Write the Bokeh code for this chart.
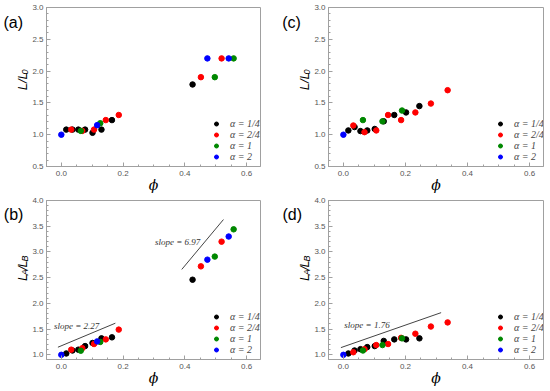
import math
from bokeh.plotting import figure
from bokeh.models import (Range1d, SingleIntervalTicker, NumeralTickFormatter,
                          Legend, LegendItem)
from bokeh.layouts import gridplot
from bokeh.embed import file_html
from bokeh.resources import INLINE
from bokeh.core.properties import value

# ---------------- data ----------------
series_labels = ["α = 1/4", "α = 2/4", "α = 1", "α = 2"]
series_colors = ["#000000", "#ff0000", "#008800", "#0000ff"]

phi_ab_black = [0.016, 0.036, 0.055, 0.077, 0.101, 0.130, 0.164, 0.425]
phi_ab_red = [0.032, 0.068, 0.106, 0.144, 0.186, 0.452, 0.519]
phi_ab_green = [0.063, 0.126, 0.497, 0.558]
phi_ab_blue = [0.0, 0.116, 0.473, 0.542]

a_black = [1.08, 1.08, 1.08, 1.08, 1.03, 1.08, 1.23, 1.79]
a_red = [1.08, 1.06, 1.08, 1.23, 1.31, 1.905, 2.20]
a_green = [1.06, 1.18, 1.905, 2.20]
a_blue = [1.00, 1.15, 2.20, 2.20]

b_black = [1.026, 1.084, 1.10, 1.17, 1.23, 1.32, 1.34, 2.46]
b_red = [1.10, 1.13, 1.21, 1.30, 1.49, 2.72, 3.20]
b_green = [1.08, 1.25, 2.91, 3.44]
b_blue = [1.00, 1.26, 2.85, 3.30]

phi_cd_black = [0.016, 0.036, 0.055, 0.077, 0.101, 0.130, 0.164, 0.202, 0.245]
phi_cd_red = [0.032, 0.068, 0.106, 0.144, 0.186, 0.232, 0.282, 0.336]
phi_cd_green = [0.063, 0.126, 0.189]
phi_cd_blue = [0.0]

c_black = [1.067, 1.12, 1.057, 1.067, 1.09, 1.21, 1.31, 1.35, 1.45]
c_red = [1.145, 1.04, 1.067, 1.31, 1.23, 1.35, 1.49, 1.70]
c_green = [1.23, 1.21, 1.38]
c_blue = [1.00]

d_black = [1.026, 1.084, 1.11, 1.15, 1.17, 1.27, 1.30, 1.30, 1.32]
d_red = [1.05, 1.11, 1.19, 1.21, 1.33, 1.41, 1.55, 1.63]
d_green = [1.084, 1.19, 1.32]
d_blue = [1.00]

slope_b1_x = [-0.011, 0.175]
slope_b1_y = [1.148, 1.615]
slope_b2_x = [0.390, 0.525]
slope_b2_y = [2.66, 3.63]
slope_d_x = [-0.008, 0.315]
slope_d_y = [1.14, 1.82]
slope_b_text = ["slope = 2.27", "slope = 6.97"]
slope_b_text_x = [-0.024, 0.303]
slope_b_text_y = [1.57, 3.20]
slope_d_text = ["slope = 1.76"]
slope_d_text_x = [0.003]
slope_d_text_y = [1.58]

x_ticks_interval = 0.2
y_ticks_interval = 0.5

# ---------------- layout ----------------
X_RANGE = (-0.048, 0.645)
YR_TOP = (0.5, 3.0005)
YR_BOT = (0.909, 4.0005)
H_TOP, H_BOT = 195, 196
GRAY = "#a0a0a0"
TICK_GRAY = "#555555"


def make_fig(W, H, L, R, T, B, yr):
    p = figure(width=W, height=H, output_backend="svg", toolbar_location=None,
               x_range=Range1d(*X_RANGE), y_range=Range1d(*yr),
               min_border_left=L, min_border_right=R,
               min_border_top=T, min_border_bottom=B)
    p.xgrid.visible = False
    p.ygrid.visible = False
    p.outline_line_color = GRAY
    p.outline_line_width = 1
    p.xaxis.ticker = SingleIntervalTicker(interval=x_ticks_interval, num_minor_ticks=4)
    p.yaxis.ticker = SingleIntervalTicker(interval=y_ticks_interval, num_minor_ticks=5)
    p.xaxis.formatter = NumeralTickFormatter(format="0.0")
    p.yaxis.formatter = NumeralTickFormatter(format="0.0")
    for ax in (p.xaxis[0], p.yaxis[0]):
        ax.axis_line_color = GRAY
        ax.major_tick_line_color = GRAY
        ax.minor_tick_line_color = GRAY
        ax.major_tick_in = 4
        ax.major_tick_out = 0
        ax.minor_tick_in = 2
        ax.minor_tick_out = 0
        ax.major_label_text_font = "Liberation Sans"
        ax.major_label_text_font_size = "8px"
        ax.major_label_text_color = TICK_GRAY
    p.xaxis.major_label_standoff = 4
    p.yaxis.major_label_standoff = 3
    p.xaxis.axis_label = "ϕ"
    p.xaxis.axis_label_text_font = "DejaVu Serif"
    p.xaxis.axis_label_text_font_style = "italic"
    p.xaxis.axis_label_text_font_size = "14px"
    p.xaxis.axis_label_text_color = "#000000"
    p.xaxis.axis_label_standoff = -2
    return p


def make_side(W, H):
    """Narrow strip left of a panel holding the panel letter and y label."""
    s = figure(width=W, height=H, output_backend="svg", toolbar_location=None,
               x_range=Range1d(0, W), y_range=Range1d(0, H),
               x_axis_location=None, y_axis_location=None,
               min_border_left=0, min_border_right=0,
               min_border_top=0, min_border_bottom=0)
    s.grid.visible = False
    s.outline_line_color = None
    return s


def fill_side(s, H, panel, panel_xy, pieces, cx, cy, main=13, sub=9, sub_shift=3):
    # positions given in pixels from the strip's top-left corner
    s.text(x=[panel_xy[0]], y=[H - panel_xy[1]], text=[panel],
           text_font=value("Liberation Sans"), text_font_size="16px",
           text_align="left", text_baseline="middle", text_color="#000000")
    total = sum(w for _, _, w in pieces)
    start = cy + total / 2
    for text, is_sub, w in pieces:
        size = sub if is_sub else main
        gx = cx + (sub_shift if is_sub else 0)      # glyph centre (screen x)
        gy = start - w / 2                           # glyph centre (from top)
        s.text(x=[gx], y=[H - gy], text=[text], angle=math.pi / 2,
               text_font=value("Liberation Sans"), text_font_size=f"{size}px",
               text_font_style="italic", text_align="center",
               text_baseline="middle", text_color="#000000")
        start -= w


def add_points(p, xs, ys, legend_x):
    rs = []
    for x, y, c in zip(xs, ys, series_colors):
        rs.append(p.scatter(x, y, size=5.5, fill_color=c, line_color=c))
    legend = Legend(items=[LegendItem(label=l, renderers=[r]) for l, r in zip(series_labels, rs)],
                    location=(legend_x, 4), glyph_width=10, glyph_height=11,
                    label_height=11, spacing=0, padding=0, margin=0,
                    border_line_color=None, background_fill_alpha=0,
                    label_standoff=9, label_text_font="Liberation Serif",
                    label_text_font_style="italic", label_text_font_size="10px")
    p.add_layout(legend)


LL0 = [("L/L", False, 1.39 * 13), ("0", True, 0.556 * 9)]
LALB = [("L", False, 7.2), ("A", True, 6.0), ("/", False, 3.6),
        ("L", False, 7.2), ("B", True, 6.0)]

SW_L, SW_R = 29, 33          # side strip widths
PW_L, PW_R = 249, 239        # panel widths

ta = make_side(SW_L, H_TOP)
tc = make_side(SW_R, H_TOP)
tb = make_side(SW_L, H_BOT)
td = make_side(SW_R, H_BOT)

pa = make_fig(PW_L, H_TOP, 14, 18, 7, 27, YR_TOP)
pc = make_fig(PW_R, H_TOP, 14, 7, 7, 27, YR_TOP)
pb = make_fig(PW_L, H_BOT, 14, 18, 5, 32, YR_BOT)
pd = make_fig(PW_R, H_BOT, 14, 7, 5, 32, YR_BOT)

fill_side(ta, H_TOP, "(a)", (3, 18), LL0, SW_L - 7.5, 88)
fill_side(tc, H_TOP, "(c)", (3.7, 18), LL0, SW_R - 7.5, 88)
fill_side(tb, H_BOT, "(b)", (3.3, 17), LALB, SW_L - 7.5, 83.5)
fill_side(td, H_BOT, "(d)", (4, 17), LALB, SW_R - 7.5, 83.5)

add_points(pa, [phi_ab_black, phi_ab_red, phi_ab_green, phi_ab_blue],
           [a_black, a_red, a_green, a_blue], 165)
add_points(pc, [phi_cd_black, phi_cd_red, phi_cd_green, phi_cd_blue],
           [c_black, c_red, c_green, c_blue], 167)
add_points(pb, [phi_ab_black, phi_ab_red, phi_ab_green, phi_ab_blue],
           [b_black, b_red, b_green, b_blue], 165)
add_points(pd, [phi_cd_black, phi_cd_red, phi_cd_green, phi_cd_blue],
           [d_black, d_red, d_green, d_blue], 167)

for p, xs, ys in ((pb, slope_b1_x, slope_b1_y), (pb, slope_b2_x, slope_b2_y),
                  (pd, slope_d_x, slope_d_y)):
    p.line(xs, ys, line_color="#444444", line_width=1)

pb.text(x=slope_b_text_x, y=slope_b_text_y, text=slope_b_text,
        text_font=value("Liberation Serif"), text_font_style="italic",
        text_font_size="9px", text_align="left", text_baseline="middle",
        text_color="#333333")
pd.text(x=slope_d_text_x, y=slope_d_text_y, text=slope_d_text,
        text_font=value("Liberation Serif"), text_font_style="italic",
        text_font_size="9px", text_align="left", text_baseline="middle",
        text_color="#333333")

grid = gridplot([[ta, pa, tc, pc], [tb, pb, td, pd]], toolbar_location=None)
open("out.html", "w").write(file_html(grid, INLINE))
